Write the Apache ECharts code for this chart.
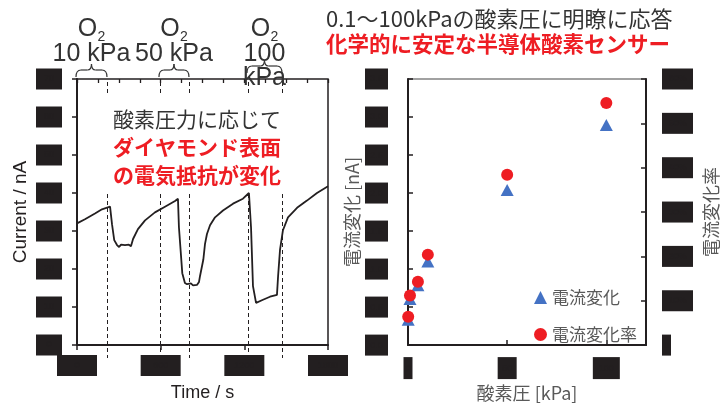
<!DOCTYPE html>
<html><head><meta charset="utf-8">
<script src="https://cdn.jsdelivr.net/npm/echarts@6/dist/echarts.min.js"></script>
<style>html,body{margin:0;padding:0;background:#fff}#c{width:725px;height:407px}</style>
</head><body><div id="c"></div>
<script>
// ---- Left panel: current vs time ----
const timeS = [0, 57, 129, 179, 237, 251, 267, 287, 302, 316, 330, 344, 358, 372, 387, 394, 402, 437, 488, 559, 631, 703, 724, 731, 755, 774, 789, 803, 817, 832, 846, 860, 875, 882, 906, 918, 932, 954, 990, 1047, 1119, 1190, 1233, 1248, 1262, 1284, 1298, 1334, 1384, 1434, 1442, 1456, 1477, 1513, 1578, 1649, 1721, 1800];
const currentNA = [32.0, 33.1, 34.6, 35.7, 36.4, 31.8, 27.6, 26.3, 25.8, 26.4, 25.9, 26.3, 25.8, 26.4, 26.0, 26.3, 27.9, 30.5, 32.8, 34.9, 36.4, 37.9, 38.5, 31.0, 18.9, 16.3, 16.0, 15.6, 16.2, 15.7, 16.2, 15.8, 16.6, 18.1, 22.5, 26.6, 29.2, 31.5, 33.6, 35.4, 37.2, 38.5, 40.0, 31.0, 15.5, 11.1, 10.8, 11.9, 12.7, 13.2, 18.1, 25.1, 30.2, 33.6, 36.1, 38.0, 40.0, 41.8];
const switchTimes = [215, 595, 803, 1226, 1470];
const braceFrom = [0, 595, 1226];
const braceTo = [215, 803, 1470];
const braceLabels = ['10 kPa', '50 kPa', '100\nkPa'];
const noteLines = ['酸素圧力に応じて', 'ダイヤモンド表面', 'の電気抵抗が変化'];

// ---- Right panel: response vs O2 pressure ----
const pressureKPa = [0.1, 1, 5, 10, 50, 100];
const currentChangeNA = [0.332, 0.605, 0.787, 1.10, 2.04, 2.895];
const currentChangeRate = [6.4, 11.2, 14.3, 20.4, 38.4, 54.6];

const titleLine1 = '0.1～100kPaの酸素圧に明瞭に応答';
const titleLine2 = '化学的に安定な半導体酸素センサー';

const INK = '#231f20';
const RED = '#ee1d23';
const BLUE = '#4472c4';
const GRAY = '#595959';
const CJK = '"Noto Sans CJK JP", sans-serif';
const LAT = '"Liberation Sans", Arial, sans-serif';

function box(w, h) {
  return { width: w, height: h, backgroundColor: INK, color: INK, fontSize: 9, align: 'center' };
}

const chart = echarts.init(document.getElementById('c'));
chart.setOption({
  animation: false,
  backgroundColor: '#fff',
  grid: [
    { left: 77, right: 397, top: 79, bottom: 57, show: true, borderColor: INK, borderWidth: 1.5, backgroundColor: 'transparent' },
    { left: 408, right: 79, top: 79, bottom: 59, show: true, borderColor: '#444', borderWidth: 1.2, backgroundColor: 'transparent' }
  ],
  xAxis: [
    { type: 'value', gridIndex: 0, min: 0, max: 1800, interval: 600,
      name: 'Time / s', nameLocation: 'middle', nameGap: 39,
      nameTextStyle: { fontFamily: LAT, fontSize: 18, color: INK },
      axisLine: { lineStyle: { color: INK, width: 2 } },
      axisTick: { length: 5, lineStyle: { color: INK, width: 1.5 } },
      splitLine: { show: false },
      axisLabel: { margin: 10, formatter: v => '{b|' + v + '}', rich: { b: box(40, 21) } } },
    { type: 'value', gridIndex: 0, min: 0, max: 1800, interval: 150,
      axisLine: { show: false }, axisLabel: { show: false }, splitLine: { show: false },
      axisTick: { inside: true, length: 4, lineStyle: { color: INK, width: 1.3 } } },
    { type: 'value', gridIndex: 1, min: 0, max: 120, interval: 50,
      name: '酸素圧 [kPa]', nameLocation: 'middle', nameGap: 35,
      nameTextStyle: { fontFamily: CJK, fontSize: 18, color: GRAY },
      axisLine: { lineStyle: { color: INK, width: 2 } },
      axisTick: { inside: true, length: 5, lineStyle: { color: INK, width: 1.5 } },
      splitLine: { show: false },
      axisLabel: { margin: 12, showMaxLabel: false,
        formatter: v => '{w' + String(v).length + '|' + v + '}',
        rich: { w1: box(9, 22), w2: box(19, 22), w3: box(27, 22) } } }
  ],
  yAxis: [
    { type: 'value', gridIndex: 0, min: 0, max: 70, interval: 10,
      name: 'Current / nA', nameLocation: 'middle', nameGap: 47, nameRotate: 90,
      nameTextStyle: { fontFamily: LAT, fontSize: 19, color: INK },
      axisLine: { lineStyle: { color: INK, width: 2 } },
      axisTick: { length: 5, lineStyle: { color: INK, width: 1.5 } },
      splitLine: { show: false },
      axisLabel: { margin: 15, formatter: v => '{b|' + v + '}', rich: { b: box(26, 21) } } },
    { type: 'value', gridIndex: 1, min: 0, max: 3.5, interval: 0.5,
      name: '電流変化 [nA]', nameLocation: 'middle', nameGap: 47, nameRotate: 90,
      nameTextStyle: { fontFamily: CJK, fontSize: 18, color: GRAY },
      axisLine: { lineStyle: { color: INK, width: 2 } },
      axisTick: { inside: true, length: 5, lineStyle: { color: INK, width: 1.5 } },
      splitLine: { show: false },
      axisLabel: { margin: 20, formatter: v => '{b|' + v.toFixed(1) + '}', rich: { b: box(23, 21) } } },
    { type: 'value', gridIndex: 1, position: 'right', min: 0, max: 60, interval: 10,
      name: '電流変化率', nameLocation: 'middle', nameGap: 56, nameRotate: 90,
      nameTextStyle: { fontFamily: CJK, fontSize: 18, color: GRAY },
      axisLine: { show: true, lineStyle: { color: INK, width: 2 } },
      axisTick: { inside: true, length: 5, lineStyle: { color: INK, width: 1.5 } },
      splitLine: { show: false },
      axisLabel: { margin: 16, formatter: v => v === 0 ? '{s|0}' : '{b|' + v + '%}', rich: { s: box(9, 21), b: box(31, 21) } } }
  ],
  legend: {
    data: [{ name: '電流変化', icon: 'triangle' }, { name: '電流変化率', icon: 'circle' }],
    orient: 'vertical', left: 529, top: 284, itemWidth: 13, itemHeight: 13, itemGap: 20,
    textStyle: { fontFamily: CJK, fontSize: 17, color: GRAY }
  },
  series: [
    { type: 'line', xAxisIndex: 0, yAxisIndex: 0, symbol: 'none', z: 3,
      data: timeS.map((t, i) => [t, currentNA[i]]),
      lineStyle: { color: INK, width: 1.8 } },
    { name: '電流変化', type: 'scatter', xAxisIndex: 2, yAxisIndex: 1, symbol: 'triangle', symbolSize: [13, 12], z: 3,
      itemStyle: { color: BLUE, opacity: 1 },
      data: pressureKPa.map((p, i) => [p, currentChangeNA[i]]) },
    { name: '電流変化率', type: 'scatter', xAxisIndex: 2, yAxisIndex: 2, symbol: 'circle', symbolSize: 12, z: 4,
      itemStyle: { color: RED, opacity: 1 },
      data: pressureKPa.map((p, i) => [p, currentChangeRate[i]]) }
  ]
});

// ---- annotations positioned via the time axis ----
const px = t => chart.convertToPixel({ xAxisIndex: 0 }, t);
const yTop = chart.convertToPixel({ yAxisIndex: 0 }, 70);
const yBot = chart.convertToPixel({ yAxisIndex: 0 }, 0);
const g = [];
switchTimes.forEach(t => {
  const x = Math.round(px(t)) + 0.5;
  g.push({ type: 'line', z: 0, shape: { x1: x, y1: yTop + 3, x2: x, y2: yBot + 13 },
    style: { stroke: INK, lineWidth: 1, lineDash: [4, 3] } });
});
// white note box covering dashes
g.push({ type: 'rect', z: 1, shape: { x: 100, y: 96, width: 192, height: 98 }, style: { fill: '#fff' } });
noteLines.forEach((s, i) => {
  g.push({ type: 'text', z: 5, x: 113, y: 119 + i * 28,
    style: { text: s, fill: i === 0 ? '#333' : RED, font: (i === 0 ? 'normal ' : 'bold ') + '21px ' + CJK,
      align: 'left', verticalAlign: 'middle' } });
});
const braceStyle = { fill: null, stroke: '#333', lineWidth: 1.2 };
function curve(ax, ay, cx, cy, bx, by) {
  return { type: 'bezierCurve', z: 5, shape: { x1: ax, y1: ay, cpx1: cx, cpy1: cy, x2: bx, y2: by }, style: braceStyle };
}
function seg(ax, ay, bx, by) {
  return { type: 'line', z: 5, shape: { x1: ax, y1: ay, x2: bx, y2: by }, style: braceStyle };
}
braceFrom.forEach((f, i) => {
  const x1 = px(f) - 1, x2 = px(braceTo[i]);
  const m = (x1 + x2) / 2;
  const lines = braceLabels[i].split('\n');
  const lift = lines.length > 1 ? 4 : 0;
  const yb = 70 - lift, ye = 77 - lift, yt = 64 - lift;
  g.push(curve(x1, ye, x1, yb, x1 + 5, yb));
  g.push(seg(x1 + 5, yb, m - 4, yb));
  g.push(curve(m - 4, yb, m, yb, m, yt));
  g.push(curve(m, yt, m, yb, m + 4, yb));
  g.push(seg(m + 4, yb, x2 - 5, yb));
  g.push(curve(x2 - 5, yb, x2, yb, x2, ye));
  g.push({ type: 'text', z: 5, x: m - 4, y: 29,
    style: { text: 'O', fill: '#333', font: '25px ' + LAT, align: 'center', verticalAlign: 'middle' } });
  g.push({ type: 'text', z: 5, x: m + 10, y: 37,
    style: { text: '2', fill: '#333', font: '14px ' + LAT, align: 'center', verticalAlign: 'middle' } });
  lines.forEach((s, j) => {
    g.push({ type: 'text', z: 6, x: m, y: 54 + j * 24,
      style: { text: s, fill: '#333', font: '25px ' + LAT, align: 'center', verticalAlign: 'middle' } });
  });
});
g.push({ type: 'text', z: 5, x: 326, y: 19,
  style: { text: titleLine1, fill: '#333', font: '22px ' + CJK, align: 'left', verticalAlign: 'middle' } });
g.push({ type: 'text', z: 5, x: 326, y: 44,
  style: { text: titleLine2, fill: RED, font: 'bold 21.5px ' + CJK, align: 'left', verticalAlign: 'middle' } });
chart.setOption({ graphic: g });
</script>
</body></html>
